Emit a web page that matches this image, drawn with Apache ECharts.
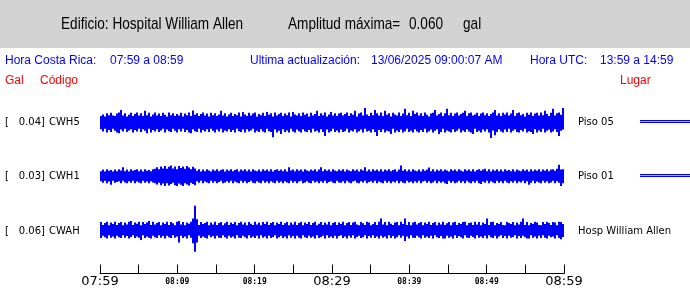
<!DOCTYPE html>
<html><head><meta charset="utf-8">
<script src="https://cdn.jsdelivr.net/npm/echarts/dist/echarts.min.js"></script>
<style>html,body{margin:0;padding:0;background:#fff}#c{width:690px;height:288px}</style>
</head><body><div id="c"></div>
<script>
// ---- data (amplitudes in mgal, one column per ~15.5 s) ----
const codes = ['CWH5', 'CWH1', 'CWAH'];
const places = ['Piso 05', 'Piso 01', 'Hosp William Allen'];
const peakGal = ['0.04', '0.03', '0.06'];
const tickLabels = ['07:59', '08:09', '08:19', '08:29', '08:39', '08:49', '08:59'];
const spanMinutes = 60;

const cwh5Top = [
15,19,14,22,17,23,16,15,21,24,30,16,22,14,18,23,15,20,24,16,
22,15,28,17,23,14,19,24,16,21,15,23,18,14,24,17,22,15,20,16,
23,14,21,17,24,15,29,18,22,15,20,24,16,21,14,23,17,22,15,19,
28,16,22,14,19,23,15,20,17,24,14,25,19,15,23,16,21,24,14,20,
17,23,15,25,18,22,14,24,16,20,23,15,21,17,24,14,25,19,16,22,
15,24,18,21,14,23,16,20,28,15,22,17,24,14,19,25,16,22,15,21,
23,16,20,24,15,22,18,28,14,21,24,16,35,19,15,23,17,30,22,16,
24,15,28,18,22,14,23,19,16,24,15,21,33,17,23,15,28,20,24,16,
22,15,24,18,14,21,23,30,16,20,24,15,22,33,17,23,15,21,24,16,
20,23,28,15,22,24,16,19,23,15,21,24,17,22,15,20,24,30,16,22,
15,23,19,24,16,21,30,15,22,24,17,20,14,23,18,24,15,21,23,16,
24,17,28,20,15,23,33,16,22,24,18,35];
const cwh5Bot = [
18,24,17,26,20,25,17,22,26,28,19,24,17,25,21,18,26,20,24,17,
25,18,22,28,17,26,20,24,18,25,21,17,26,19,23,25,17,22,26,18,
24,17,25,20,26,28,18,23,25,17,26,20,24,18,25,17,22,26,19,24,
17,26,21,24,18,25,20,26,17,23,25,19,26,18,24,21,17,26,22,25,
18,24,26,17,23,25,38,19,26,22,30,18,25,21,26,17,24,26,19,23,
26,18,24,25,20,26,17,24,22,26,18,25,35,19,26,23,17,25,21,26,
19,25,23,17,26,21,24,18,26,23,19,26,17,24,22,26,18,25,35,20,
25,18,26,22,24,30,17,26,21,25,19,26,23,17,25,22,26,18,24,26,
20,25,17,26,23,19,26,22,18,30,25,17,26,21,24,26,18,25,22,17,
26,21,25,18,24,26,30,17,25,22,26,19,24,18,26,40,21,33,25,18,
24,26,19,25,17,26,22,18,25,26,20,24,17,26,23,25,30,18,26,21,
25,17,26,22,19,26,24,18,25,35,22,19];
const cwh1Top = [
12,16,11,17,13,15,11,16,12,17,14,22,12,16,11,17,13,15,17,12,
16,11,17,13,15,12,17,18,22,17,24,19,25,18,23,26,19,24,17,25,
20,24,18,25,21,17,23,19,13,17,11,16,12,17,14,11,16,13,17,12,
15,17,11,16,13,17,12,15,17,11,16,13,17,12,16,11,17,14,12,16,
11,17,13,16,12,17,11,15,17,13,16,12,17,11,22,14,16,12,17,13,
16,11,17,14,12,16,13,17,11,16,22,12,17,13,16,11,17,14,12,16,
13,17,11,16,14,12,17,13,16,11,17,14,22,12,16,11,17,13,16,12,
17,11,16,13,17,12,15,17,11,16,26,13,17,12,16,11,17,14,12,16,
11,17,13,16,21,12,17,11,16,13,17,12,16,14,11,17,13,16,12,17,
14,11,17,13,16,12,17,11,15,17,13,16,18,12,17,11,16,13,17,12,
16,11,17,13,15,12,17,11,16,14,12,17,13,16,11,17,12,16,13,17,
11,16,13,17,12,16,17,13,18,28,16,17];
const cwh1Bot = [
13,17,12,18,14,22,12,17,15,13,18,12,16,18,13,17,12,18,14,16,
18,12,17,14,18,13,16,18,21,17,23,19,25,18,24,20,17,23,25,19,
22,25,18,21,24,17,20,23,13,17,12,18,14,16,18,12,17,13,18,15,
12,18,16,13,17,12,18,14,16,18,12,17,13,18,15,12,17,18,13,16,
18,12,17,14,18,13,16,18,12,17,14,18,13,16,18,12,17,13,18,14,
12,18,16,13,17,18,12,16,14,18,13,17,12,18,15,13,17,18,12,16,
17,13,18,12,16,18,14,12,17,18,13,16,12,18,15,13,17,12,18,14,
16,18,12,17,13,18,14,16,12,18,13,17,18,12,16,14,18,13,17,12,
18,14,12,17,13,18,16,12,18,13,17,14,18,20,12,17,13,18,16,12,
17,13,18,12,16,18,13,17,12,18,20,14,17,12,18,13,16,18,12,17,
13,18,12,16,18,13,17,12,18,14,16,12,18,13,22,17,12,18,14,16,
18,12,17,13,18,16,12,18,13,17,25,18];
const cwahTop = [
21,14,19,22,13,20,16,22,14,19,21,13,20,15,22,24,14,20,17,22,
13,21,16,20,24,14,22,15,19,21,13,20,16,22,14,21,18,13,22,24,
15,21,13,20,17,22,30,62,28,14,21,16,19,22,13,20,15,22,14,19,
21,13,18,22,14,20,16,21,13,19,22,15,20,13,21,17,14,22,15,20,
13,21,16,22,14,19,21,13,20,16,22,14,18,21,13,20,15,22,14,19,
22,13,20,16,21,14,19,22,13,17,21,14,20,15,22,13,19,21,14,20,
16,22,13,19,21,14,20,22,15,13,21,18,14,22,20,13,16,21,14,22,
30,15,21,13,22,17,14,20,21,13,22,16,30,14,21,13,20,22,15,19,
21,13,20,16,22,14,19,21,13,20,15,22,14,18,21,13,20,22,14,19,
16,21,22,13,19,20,14,22,15,21,13,20,16,30,14,21,22,13,19,16,
21,14,13,22,19,16,21,13,20,15,22,30,14,21,13,19,16,22,20,14,
13,21,16,22,19,14,21,20,13,22,21,16];
const cwahBot = [
19,13,17,20,12,18,15,20,13,17,19,12,18,14,20,16,12,19,15,18,
24,12,19,15,18,20,13,17,19,12,18,14,20,13,17,19,12,18,15,30,
13,19,15,20,12,18,32,53,30,13,19,15,18,20,12,17,14,20,13,18,
19,12,17,20,13,18,15,20,12,18,19,13,17,20,12,18,15,19,13,20,
12,18,15,20,13,19,16,12,20,17,13,19,15,20,12,18,14,20,13,18,
20,12,17,19,13,18,15,20,12,19,16,13,20,12,18,15,19,13,20,14,
12,19,15,20,13,18,12,20,16,13,19,17,12,20,14,18,12,19,15,20,
13,18,15,20,12,19,14,20,17,12,18,13,26,15,20,12,18,19,13,17,
20,12,18,15,19,13,20,12,17,19,14,20,20,13,18,15,20,12,19,14,
17,20,12,18,19,13,16,20,12,18,15,19,13,20,12,17,19,13,20,15,
12,19,14,20,13,18,16,12,20,14,19,13,17,20,20,12,18,15,20,13,
19,12,18,20,13,17,15,20,12,19,22,16];

// ---- layout ----
const LEFT = 100, RIGHT = 126;
const traceTops = [97, 151, 205.5];
const traceH = 50;
const ampRange = 62.5;
const traces = [[cwh5Top, cwh5Bot], [cwh1Top, cwh1Bot], [cwahTop, cwahBot]];
const N = cwh5Top.length;
const step = spanMinutes / N;

function toData(top, bot) { return top.map((t, i) => [(i + 0.5) * step, t, bot[i]]); }

const grids = [], xAxes = [], yAxes = [], series = [];
traces.forEach((tr, k) => {
  grids.push({ left: LEFT, right: RIGHT, top: traceTops[k], height: traceH });
  xAxes.push({ gridIndex: k, type: 'value', min: 0, max: spanMinutes, show: false });
  yAxes.push({ gridIndex: k, type: 'value', min: -ampRange, max: ampRange, show: false });
  series.push({
    type: 'custom', xAxisIndex: k, yAxisIndex: k, silent: true, clip: false,
    encode: { x: 0, y: [1] },
    data: toData(tr[0], tr[1]),
    renderItem: function (params, api) {
      const x = api.value(0), t = api.value(1), b = api.value(2);
      const p1 = api.coord([x - step / 2, t]);
      const p2 = api.coord([x + step / 2, -b]);
      return { type: 'rect', shape: { x: p1[0], y: p1[1], width: p2[0] - p1[0], height: p2[1] - p1[1] },
               style: { fill: '#0000ff' } };
    }
  });
});
// time axis grid
grids.push({ left: LEFT, right: RIGHT, top: 265, height: 9 });
xAxes.push({
  gridIndex: 3, type: 'value', min: 0, max: spanMinutes, interval: 5,
  axisLine: { show: true, lineStyle: { color: '#000', width: 1 } },
  axisTick: { show: true, inside: true, length: 9, lineStyle: { color: '#000', width: 1 } },
  splitLine: { show: false },
  axisLabel: {
    show: true, margin: 1, showMinLabel: true, showMaxLabel: true,
    formatter: function (v) {
      const m = Math.round(v);
      if (m % 10 !== 0) return '';
      const lab = tickLabels[m / 10];
      return (m % 30 === 0) ? '{big|' + lab + '}' : '{small|' + lab + '}';
    },
    rich: {
      big: { fontFamily: 'DejaVu Sans', fontSize: 13, color: '#000', lineHeight: 14 },
      small: { fontFamily: 'DejaVu Sans Mono', fontSize: 8, fontWeight: 'bold', color: '#000', lineHeight: 14 }
    }
  }
});
yAxes.push({ gridIndex: 3, type: 'value', show: false, min: 0, max: 1 });

const headFont = "'Liberation Sans', Arial, sans-serif";
const infoFont = "'Liberation Sans', Arial, sans-serif";
function txt(x, y, text, font, size, color, align, sx) {
  return { type: 'text', x: x, y: y, silent: true, scaleX: sx || 1,
    style: { text: text, font: size + 'px ' + font, fill: color, textAlign: align || 'left', textVerticalAlign: 'middle' } };
}
const graphics = [
  { type: 'rect', shape: { x: 0, y: 0, width: 690, height: 48 }, style: { fill: '#d3d3d3' }, silent: true },
  txt(61, 24, 'Edificio: Hospital William Allen', headFont, 17, '#000', 'left', 0.8),
  txt(288, 24, 'Amplitud máxima=', headFont, 17, '#000', 'left', 0.8),
  txt(409, 24, '0.060', headFont, 17, '#000', 'left', 0.8),
  txt(463, 24, 'gal', headFont, 17, '#000', 'left', 0.8),
  txt(5, 61, 'Hora Costa Rica:', infoFont, 12, '#0000ff'),
  txt(110, 61, '07:59 a 08:59', infoFont, 12, '#0000ff'),
  txt(250, 61, 'Ultima actualización:', infoFont, 12, '#0000ff'),
  txt(371, 61, '13/06/2025 09:00:07 AM', infoFont, 12, '#0000ff'),
  txt(530, 61, 'Hora UTC:', infoFont, 12, '#0000ff'),
  txt(600, 61, '13:59 a 14:59', infoFont, 12, '#0000ff'),
  txt(5, 81, 'Gal', infoFont, 12, '#ff0000'),
  txt(40, 81, 'Código', infoFont, 12, '#ff0000'),
  txt(620, 81, 'Lugar', infoFont, 12, '#ff0000')
];
const rowCenters = traceTops.map(t => t + traceH / 2 + 0.5);
codes.forEach((c, k) => {
  const y = rowCenters[k];
  graphics.push(txt(5, y, '[', 'DejaVu Sans', 10, '#000'));
  graphics.push(txt(45, y, peakGal[k] + ']', 'DejaVu Sans', 10, '#000', 'right'));
  graphics.push(txt(49, y, c, 'DejaVu Sans', 10, '#000'));
  graphics.push(txt(578, y, places[k], 'DejaVu Sans', 10, '#000'));
});
// double scale lines at right of first two rows
[120, 174].forEach(y => {
  graphics.push({ type: 'line', silent: true, shape: { x1: 640, y1: y + 0.5, x2: 690, y2: y + 0.5 }, style: { stroke: '#0000ff', lineWidth: 1 } });
  graphics.push({ type: 'line', silent: true, shape: { x1: 640, y1: y + 1.5, x2: 690, y2: y + 1.5 }, style: { stroke: '#b0b0ff', lineWidth: 1 } });
  graphics.push({ type: 'line', silent: true, shape: { x1: 640, y1: y + 2.5, x2: 690, y2: y + 2.5 }, style: { stroke: '#0000ff', lineWidth: 1 } });
});

const chart = echarts.init(document.getElementById('c'), null, { renderer: 'canvas' });
chart.setOption({
  animation: false,
  backgroundColor: '#ffffff',
  grid: grids, xAxis: xAxes, yAxis: yAxes, series: series,
  graphic: { elements: graphics }
});
</script>
</body></html>
